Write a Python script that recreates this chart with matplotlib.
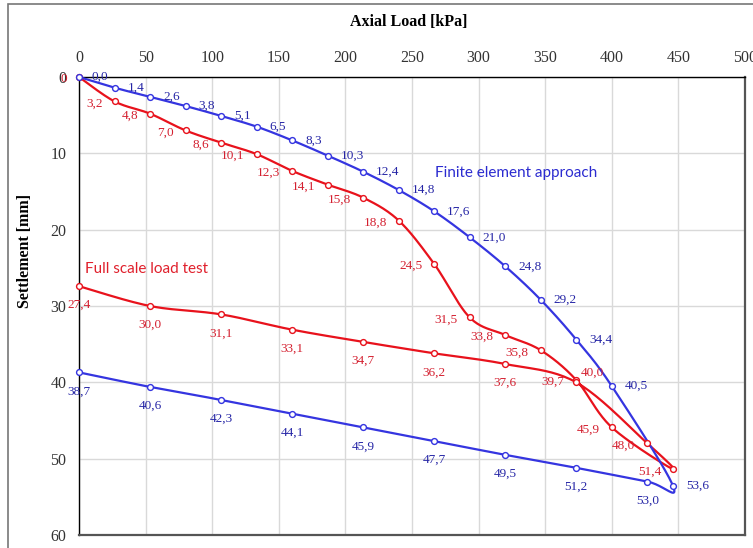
import numpy as np
import matplotlib
matplotlib.use("Agg")
import matplotlib.pyplot as plt
from matplotlib.patches import Rectangle

# Load steps [kPa]
load_up = [0, 26.7, 53.3, 80, 106.7, 133.3, 160, 186.7, 213.3, 240,
           266.7, 293.3, 320, 346.7, 373.3, 400, 446]
load_down = [446, 426.7, 373.3, 320, 266.7, 213.3, 160, 106.7, 53.3, 0]

# Settlement [mm] - finite element approach
fem_up = [0.0, 1.4, 2.6, 3.8, 5.1, 6.5, 8.3, 10.3, 12.4, 14.8,
          17.6, 21.0, 24.8, 29.2, 34.4, 40.5, 53.6]
fem_down = [53.6, 53.0, 51.2, 49.5, 47.7, 45.9, 44.1, 42.3, 40.6, 38.7]

# Settlement [mm] - full scale load test
test_up = [0.0, 3.2, 4.8, 7.0, 8.6, 10.1, 12.3, 14.1, 15.8, 18.8,
           24.5, 31.5, 33.8, 35.8, 39.7, 45.9, 51.4]
test_down = [51.4, 48.0, 40.0, 37.6, 36.2, 34.7, 33.1, 31.1, 30.0, 27.4]

x_ticks = [0, 50, 100, 150, 200, 250, 300, 350, 400, 450, 500]
y_ticks = [0, 10, 20, 30, 40, 50, 60]

BLUE = "#3535e0"
BLUE_TXT = "#2626a6"
RED = "#e8121c"
RED_TXT = "#d42030"

W, H = 753, 548
fig = plt.figure(figsize=(W / 100, H / 100), dpi=100)
ax = fig.add_axes([79 / W, 1 - 535 / H, 666 / W, 458 / H])
ax.set_xlim(0, 500)
ax.set_ylim(60, 0)

# px per data unit, used for smoothing in screen space
sx = 666 / 500
sy = 458 / 60


def smooth(xs, ys, n=24):
    """Bezier smoothing through the points (spreadsheet-style smoothed line)."""
    pts = np.column_stack([np.array(xs) * sx, np.array(ys) * sy])
    out = [pts[0]]
    t = np.linspace(0, 1, n)[1:, None]
    for i in range(len(pts) - 1):
        p0 = pts[i - 1] if i > 0 else pts[i]
        p1, p2 = pts[i], pts[i + 1]
        p3 = pts[i + 2] if i + 2 < len(pts) else pts[i + 1]
        c1 = p1 + (p2 - p0) / 6
        c2 = p2 - (p3 - p1) / 6
        seg = (1 - t) ** 3 * p1 + 3 * (1 - t) ** 2 * t * c1 + 3 * (1 - t) * t ** 2 * c2 + t ** 3 * p2
        out.extend(seg)
    out = np.array(out)
    return out[:, 0] / sx, out[:, 1] / sy


def fmt(v):
    return f"{v:.1f}".replace(".", ",")


# offsets in pixels -> points
def px(v):
    return v * 0.72


place = {
    "right": dict(xytext=(px(13), 0), ha="left", va="center"),
    "left": dict(xytext=(px(-12), px(-2)), ha="right", va="center"),
    "below": dict(xytext=(0, px(-19)), ha="center", va="center"),
    "upright": dict(xytext=(px(5), px(10)), ha="left", va="center"),
}

series = [
    (load_up + load_down[1:], fem_up + fem_down[1:], BLUE, BLUE_TXT, 4,
     ["right"] * len(fem_up) + ["below"] * (len(fem_down) - 1)),
    (load_up + load_down[1:], test_up + test_down[1:], RED, RED_TXT, 3,
     ["left"] * len(test_up) + ["left", "upright"] + ["below"] * (len(test_down) - 3)),
]

for xs, ys, col, tcol, z, where in series:
    lx, ly = smooth(xs, ys)
    ax.plot(lx, ly, color=col, lw=1.6, zorder=z, clip_on=False)
    ax.plot(xs, ys, ls="none", marker="o", ms=4.2, mfc="white", mec=col,
            mew=1.0, zorder=z + 2, clip_on=False)
    for x, y, w in zip(xs, ys, where):
        label = fmt(y)
        if col == RED and y == 0:
            label = "0"
        ax.annotate(label, (x, y), textcoords="offset points", color=tcol,
                    fontsize=9.5, family="Liberation Serif", zorder=8, **place[w])

ax.text(267, 12.6, "Finite element approach", color="#2b2bd0", fontsize=11,
        family="Lato", va="center", ha="left")
ax.text(4.5, 25.1, "Full scale load test", color="#e0202c", fontsize=11,
        family="Lato", va="center", ha="left")

# axes styling
ax.xaxis.tick_top()
ax.set_xticks(x_ticks)
ax.set_yticks(y_ticks)
ax.tick_params(length=0, labelsize=11.5, labelcolor="#333333")
ax.tick_params(axis="x", pad=8)
ax.tick_params(axis="y", pad=9)
for lab in ax.get_xticklabels() + ax.get_yticklabels():
    lab.set_family("Liberation Serif")
ax.grid(True, color="#d9d9d9", lw=1.0)
ax.set_axisbelow(True)
ax.spines["left"].set_color("black")
ax.spines["top"].set_color("black")
ax.spines["left"].set_linewidth(1.0)
ax.spines["top"].set_linewidth(1.0)
ax.spines["right"].set_color("#555555")
ax.spines["bottom"].set_color("#555555")
ax.spines["right"].set_linewidth(1.6)
ax.spines["bottom"].set_linewidth(1.6)

fig.text(409 / W, 1 - 21.5 / H, "Axial Load [kPa]", ha="center", va="center",
         fontsize=11.5, fontweight="bold", family="Liberation Serif")
fig.text(25 / W, 1 - 251 / H, "Settlement [mm]", ha="center", va="center",
         rotation=90, fontsize=11.5, fontweight="bold", family="Liberation Serif")

# chart border (left and top edges visible)
fig.patches.append(Rectangle((8 / W, -0.2), 1.5, 1.2 - 4 / H, transform=fig.transFigure,
                             fill=False, edgecolor="#777777", lw=1.2))

fig.savefig("out.png", dpi=100)
